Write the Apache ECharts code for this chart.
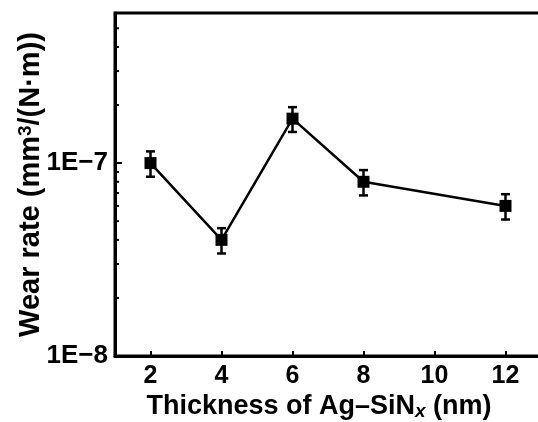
<!DOCTYPE html>
<html>
<head>
<meta charset="utf-8">
<script src="https://cdn.jsdelivr.net/npm/echarts@6/dist/echarts.min.js"></script>
<style>
  html, body { margin: 0; padding: 0; background: #fff; }
  #chart { width: 538px; height: 422px; }
</style>
</head>
<body>
<div id="chart"></div>
<script>
// Wear rate of Ag–SiNx films versus layer thickness
const thickness = [2, 4, 6, 8, 12];
const wearRate = [1.0e-7, 4.0e-8, 1.7e-7, 8.0e-8, 6.0e-8];
const wearErr = [1.5e-8, 6.0e-9, 2.5e-8, 1.2e-8, 9.0e-9];

const xTickValues = [2, 4, 6, 8, 10, 12];
const yTickValues = [1e-8, 1e-7];
const yMinorTickValues = [2e-8, 3e-8, 4e-8, 5e-8, 6e-8, 7e-8, 8e-8, 9e-8,
                          2e-7, 3e-7, 4e-7, 5e-7];

const X_MIN = 1, X_MAX = 13;
const Y_MIN = 1e-8, Y_MAX = 6e-7;

const FONT = '"Liberation Sans", Arial, sans-serif';

const chart = echarts.init(document.getElementById('chart'), null, { renderer: 'canvas' });

const mainData = thickness.map((x, i) => [x, wearRate[i]]);
const errData = thickness.map((x, i) => [x, wearRate[i] - wearErr[i], wearRate[i] + wearErr[i]]);
const minorData = yMinorTickValues.map(v => [X_MIN, v]);

function expLabel(v) {
  const e = Math.round(Math.log10(v));
  return '1E' + (e < 0 ? '\u2212' + (-e) : e);
}

chart.setOption({
  animation: false,
  backgroundColor: '#fff',
  grid: {
    left: 115, right: -3, top: 13, bottom: 66,
    outerBoundsMode: 'none', containLabel: false,
    show: true, borderColor: '#000', borderWidth: 3, backgroundColor: 'transparent'
  },
  xAxis: {
    type: 'value', min: X_MIN, max: X_MAX,
    axisLine: { show: true, lineStyle: { color: '#000', width: 3 } },
    axisTick: { show: true, inside: true, length: 5, lineStyle: { color: '#000', width: 2 },
                customValues: xTickValues },
    axisLabel: { color: '#000', fontSize: 25, fontWeight: 'bold', fontFamily: FONT, margin: 8,
                 customValues: xTickValues },
    splitLine: { show: false },
    name: 'Thickness of Ag\u2013SiN{sub|x} (nm)',
    nameLocation: 'middle', nameGap: 36, nameMoveOverlap: false,
    nameTextStyle: {
      color: '#000', fontSize: 27, fontWeight: 'bold', fontFamily: FONT,
      padding: [0, 18, 0, 0],
      rich: {
        sub: { fontSize: 19, fontWeight: 'bold', fontStyle: 'italic', fontFamily: FONT,
               verticalAlign: 'bottom', padding: [10, 0, 0, 0] }
      }
    }
  },
  yAxis: {
    type: 'log', logBase: 10, min: Y_MIN, max: Y_MAX,
    axisLine: { show: true, lineStyle: { color: '#000', width: 3 } },
    axisTick: { show: true, inside: true, length: 7, lineStyle: { color: '#000', width: 2 },
                customValues: yTickValues },
    minorTick: { show: false },
    axisLabel: { color: '#000', fontSize: 26, fontWeight: 'bold', fontFamily: FONT, margin: 7,
                 customValues: yTickValues, formatter: expLabel },
    splitLine: { show: false },
    name: 'Wear rate (mm{sup|3}/(N\u00b7m))',
    nameLocation: 'middle', nameGap: 70, nameMoveOverlap: false,
    nameTextStyle: {
      color: '#000', fontSize: 29, fontWeight: 'bold', fontFamily: FONT,
      rich: {
        sup: { fontSize: 19, fontWeight: 'bold', fontFamily: FONT,
               verticalAlign: 'top', padding: [0, 0, 10, 0] }
      }
    }
  },
  series: [
    {
      // short inward minor ticks on the logarithmic axis
      type: 'custom', silent: true, clip: false, z: 5,
      data: minorData,
      renderItem: function (params, api) {
        const p = api.coord([api.value(0), api.value(1)]);
        return {
          type: 'line',
          shape: { x1: p[0], y1: p[1], x2: p[0] + 4, y2: p[1] },
          style: { stroke: '#000', lineWidth: 2 }
        };
      }
    },
    {
      // error bars with caps
      type: 'custom', silent: true, z: 3,
      data: errData,
      renderItem: function (params, api) {
        const lo = api.coord([api.value(0), api.value(1)]);
        const hi = api.coord([api.value(0), api.value(2)]);
        const w = 4.5;
        const s = { stroke: '#000', lineWidth: 2.5 };
        return {
          type: 'group',
          children: [
            { type: 'line', shape: { x1: lo[0], y1: lo[1], x2: hi[0], y2: hi[1] }, style: s },
            { type: 'line', shape: { x1: lo[0] - w, y1: lo[1], x2: lo[0] + w, y2: lo[1] }, style: s },
            { type: 'line', shape: { x1: hi[0] - w, y1: hi[1], x2: hi[0] + w, y2: hi[1] }, style: s }
          ]
        };
      }
    },
    {
      type: 'line', z: 4,
      data: mainData,
      symbol: 'rect', symbolSize: 12,
      itemStyle: { color: '#000' },
      lineStyle: { color: '#000', width: 2.5 }
    }
  ]
});
</script>
</body>
</html>
